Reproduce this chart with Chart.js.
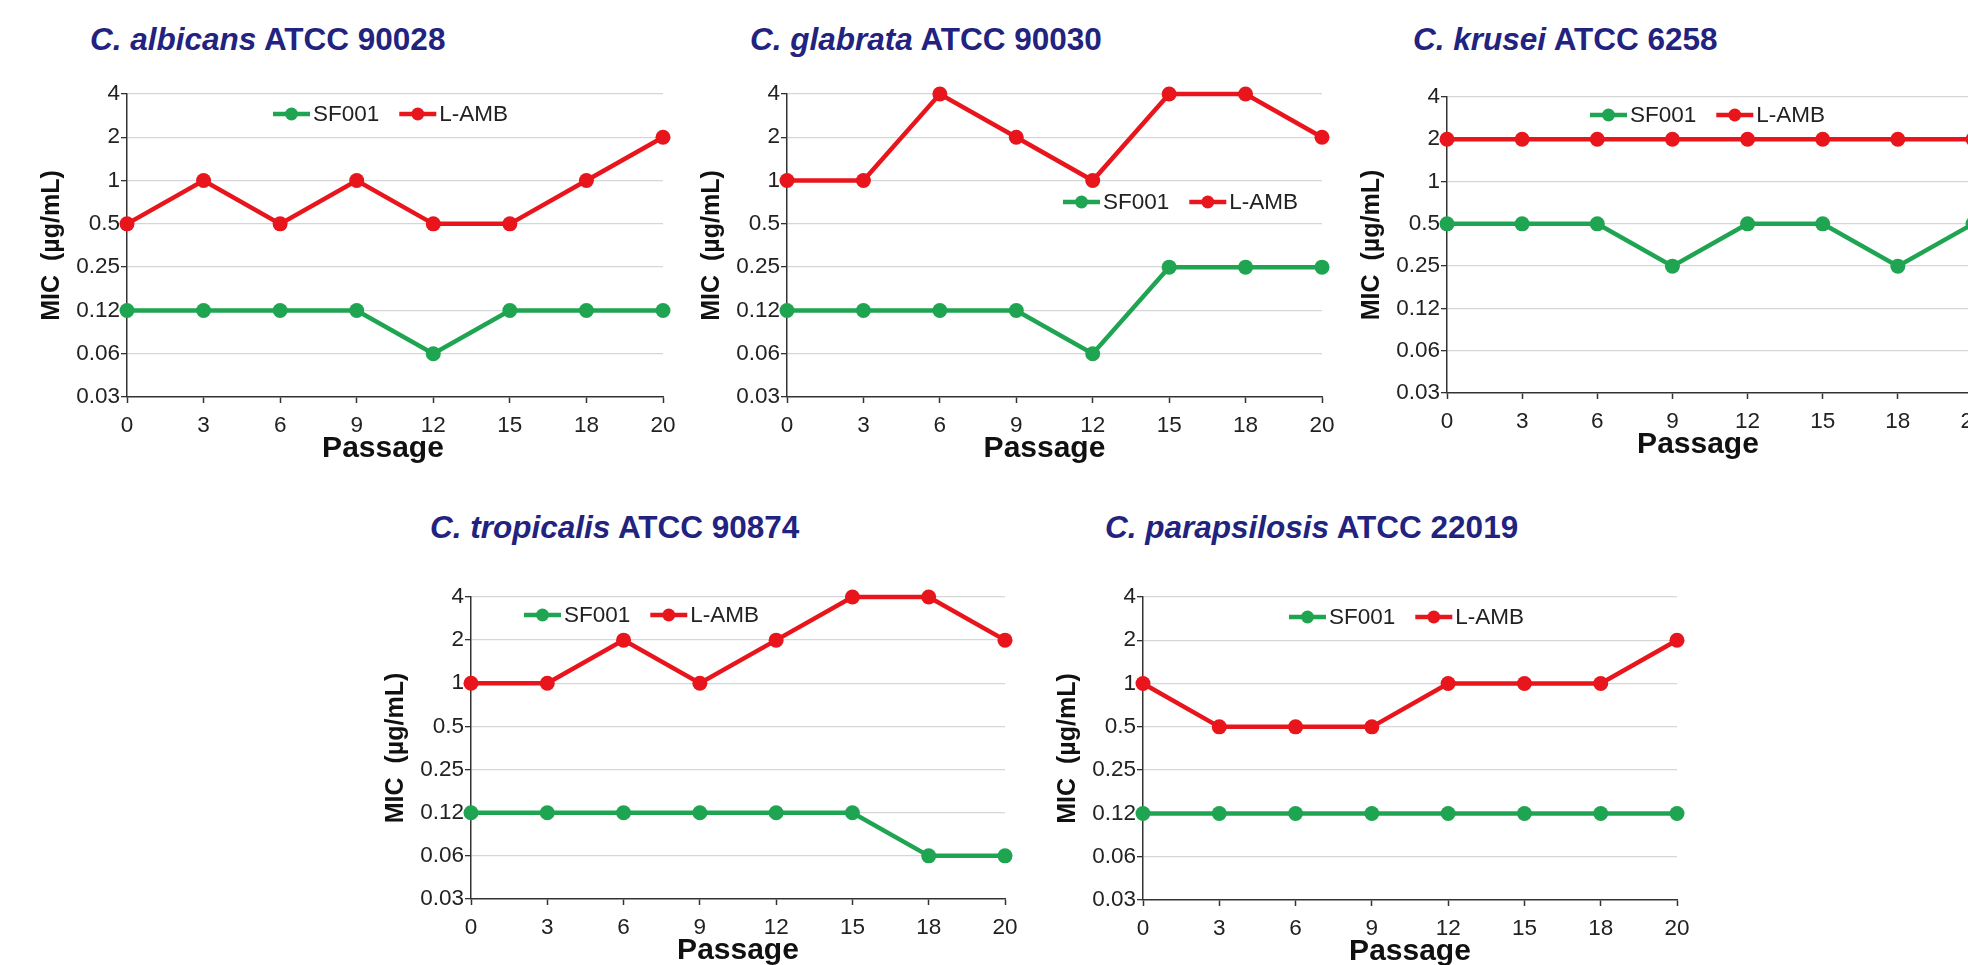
<!DOCTYPE html>
<html><head><meta charset="utf-8">
<script src="https://cdn.jsdelivr.net/npm/chart.js@4.4.1/dist/chart.umd.min.js"></script>
<style>
html,body{margin:0;padding:0;width:1968px;height:965px;overflow:hidden;background:#fff;}
canvas{position:absolute;display:block;}
.ptitle{position:absolute;font-family:'Liberation Sans',Arial,sans-serif;font-weight:bold;font-size:31.5px;line-height:30px;color:#22227F;white-space:nowrap;}
</style></head><body>
<script>
// ---- data ----
const passages = ['0','3','6','9','12','15','18','20'];
const yTickValues = [0.03125, 0.0625, 0.125, 0.25, 0.5, 1, 2, 4];
const yTickLabels = ['0.03','0.06','0.12','0.25','0.5','1','2','4'];
const seriesNames = ['SF001','L-AMB'];
const xAxisTitle = 'Passage';
const yAxisTitle = 'MIC  (µg/mL)';

const albicansSF001 = [0.125, 0.125, 0.125, 0.125, 0.0625, 0.125, 0.125, 0.125];
const albicansLAMB  = [0.5, 1, 0.5, 1, 0.5, 0.5, 1, 2];
const glabrataSF001 = [0.125, 0.125, 0.125, 0.125, 0.0625, 0.25, 0.25, 0.25];
const glabrataLAMB  = [1, 1, 4, 2, 1, 4, 4, 2];
const kruseiSF001   = [0.5, 0.5, 0.5, 0.25, 0.5, 0.5, 0.25, 0.5];
const kruseiLAMB    = [2, 2, 2, 2, 2, 2, 2, 2];
const tropicalisSF001 = [0.125, 0.125, 0.125, 0.125, 0.125, 0.125, 0.0625, 0.0625];
const tropicalisLAMB  = [1, 1, 2, 1, 2, 4, 4, 2];
const parapsilosisSF001 = [0.125, 0.125, 0.125, 0.125, 0.125, 0.125, 0.125, 0.125];
const parapsilosisLAMB  = [1, 0.5, 0.5, 0.5, 1, 1, 1, 2];

const speciesNames = ['C. albicans','C. glabrata','C. krusei','C. tropicalis','C. parapsilosis'];
const strainNames  = ['ATCC 90028','ATCC 90030','ATCC 6258','ATCC 90874','ATCC 22019'];

// ---- layout / style ----
const GREEN = '#1FA552';
const RED = '#E8161C';
const FONT = "'Liberation Sans', Arial, sans-serif";

const panels = [
  {sf: albicansSF001, amb: albicansLAMB, L:126.5, T:94, R:662, B:396.7, lx:273, ly:114, tx:90, ty:24, pdx:-12},
  {sf: glabrataSF001, amb: glabrataLAMB, L:787.3, T:93.5, R:1322.5, B:396.7, lx:1063, ly:202, tx:750, ty:24, pdx:-10},
  {sf: kruseiSF001, amb: kruseiLAMB, L:1446.7, T:97.3, R:1973, B:393.3, lx:1590, ly:115, tx:1413, ty:24, pdx:-12},
  {sf: tropicalisSF001, amb: tropicalisLAMB, L:471, T:596.7, R:1005, B:899, lx:524, ly:615, tx:430, ty:512, pdx:0},
  {sf: parapsilosisSF001, amb: parapsilosisLAMB, L:1143.3, T:596.7, R:1677, B:899.3, lx:1289, ly:617, tx:1105, ty:512, pdx:0}
];

const legendPlugin = {
  id: 'panelLegend',
  afterDatasetsDraw(chart, args, opts) {
    const ctx = chart.ctx;
    ctx.save();
    ctx.font = '22.5px ' + FONT;
    ctx.textBaseline = 'middle';
    ctx.textAlign = 'left';
    let x = opts.x;
    const y = opts.y;
    chart.data.datasets.forEach(ds => {
      ctx.strokeStyle = ds.borderColor;
      ctx.lineWidth = 4.5;
      ctx.beginPath(); ctx.moveTo(x, y); ctx.lineTo(x + 37, y); ctx.stroke();
      ctx.fillStyle = ds.borderColor;
      ctx.beginPath(); ctx.arc(x + 18.5, y, 6.5, 0, Math.PI * 2); ctx.fill();
      ctx.fillStyle = '#222';
      ctx.fillText(ds.label, x + 40, y + 1);
      x += 40 + ctx.measureText(ds.label).width + 20;
    });
    ctx.restore();
  }
};

const xTitlePlugin = {
  id: 'xTitle',
  afterDraw(chart, args, opts) {
    const ctx = chart.ctx, a = chart.chartArea;
    ctx.save();
    ctx.font = 'bold 30px ' + FONT;
    ctx.fillStyle = '#111';
    ctx.textAlign = 'center';
    ctx.textBaseline = 'middle';
    ctx.fillText(opts.text, (a.left + a.right) / 2 + opts.dx, a.bottom + 52);
    ctx.restore();
  }
};

function makeChart(p, i) {
  const Wy = 105, padTop = 20, padRight = 25, Hx = 80;
  const left = Math.round(p.L - Wy), top = Math.round(p.T - padTop);
  const areaW = Math.round(p.R - p.L), areaH = Math.round(p.B - p.T);
  const w = Wy + areaW + padRight, h = padTop + areaH + Hx;

  const t = document.createElement('div');
  t.className = 'ptitle';
  t.style.left = p.tx + 'px'; t.style.top = p.ty + 'px';
  const it = document.createElement('i');
  it.textContent = speciesNames[i];
  t.appendChild(it);
  t.appendChild(document.createTextNode(' ' + strainNames[i]));
  document.body.appendChild(t);

  const c = document.createElement('canvas');
  c.width = w; c.height = h;
  c.style.left = left + 'px'; c.style.top = top + 'px';
  c.style.width = w + 'px'; c.style.height = h + 'px';
  document.body.appendChild(c);

  const mk = (label, data, col) => ({
    label, data, borderColor: col, backgroundColor: col,
    pointBackgroundColor: col, pointBorderColor: col,
    borderWidth: 4.5, pointRadius: 7.5, pointHoverRadius: 7.5, pointBorderWidth: 0,
    tension: 0, clip: false, fill: false
  });

  new Chart(c, {
    type: 'line',
    data: { labels: passages, datasets: [mk(seriesNames[0], p.sf, GREEN), mk(seriesNames[1], p.amb, RED)] },
    options: {
      responsive: false, animation: false, devicePixelRatio: 1,
      events: [],
      layout: { padding: { left: 0, top: padTop, right: padRight, bottom: 0 } },
      plugins: {
        legend: { display: false }, tooltip: { enabled: false },
        panelLegend: { x: p.lx - left, y: p.ly - top },
        xTitle: { text: xAxisTitle, dx: p.pdx }
      },
      scales: {
        x: {
          type: 'category', offset: false,
          grid: { display: true, drawOnChartArea: false, drawTicks: true, tickLength: 6, tickColor: '#333', tickWidth: 1.5 },
          border: { display: true, color: '#333', width: 1.5 },
          ticks: { color: '#222', font: { family: FONT, size: 22.5 }, padding: 9, maxRotation: 0, autoSkip: false },
          title: { display: false },
          afterFit: s => { s.height = Hx; }
        },
        y: {
          type: 'logarithmic',
          min: yTickValues[0], max: yTickValues[yTickValues.length - 1],
          afterBuildTicks: s => { s.ticks = yTickValues.map(v => ({ value: v })); },
          grid: { color: ctx => (ctx.index === 0 ? 'rgba(0,0,0,0)' : '#D6D6D6'), lineWidth: 1.3, tickLength: 6, tickColor: '#333', drawTicks: true },
          border: { display: true, color: '#333', width: 1.5 },
          ticks: { color: '#222', font: { family: FONT, size: 22.5 }, padding: 1, autoSkip: false, callback: (v, idx) => yTickLabels[idx] },
          title: { display: true, text: yAxisTitle, color: '#111', font: { family: FONT, size: 25, weight: 'bold' }, padding: { top: 15, bottom: 0 } },
          afterFit: s => { s.width = Wy; }
        }
      }
    },
    plugins: [legendPlugin, xTitlePlugin]
  });
}

panels.forEach(makeChart);
</script>
</body></html>
